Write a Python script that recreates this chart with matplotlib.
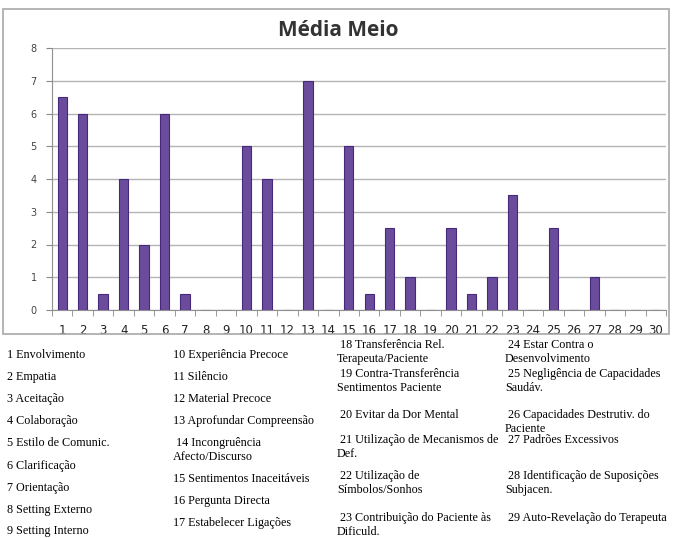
import matplotlib
matplotlib.use("Agg")
import matplotlib.pyplot as plt
from matplotlib.patches import Rectangle

categories = [str(i) for i in range(1, 31)]
values = [6.5, 6, 0.5, 4, 2, 6, 0.5, 0, 0, 5,
          4, 0, 7, 0, 5, 0.5, 2.5, 1, 0, 2.5,
          0.5, 1, 3.5, 0, 2.5, 0, 1, 0, 0, 0]
yticks = list(range(0, 9))
title = "Média Meio"

col1 = ["1 Envolvimento", "2 Empatia", "3 Aceitação", "4 Colaboração",
        "5 Estilo de Comunic.", "6 Clarificação", "7 Orientação",
        "8 Setting Externo", "9 Setting Interno"]
col2 = ["10 Experiência Precoce", "11 Silêncio", "12 Material Precoce",
        "13 Aprofundar Compreensão", " 14 Incongruência\nAfecto/Discurso",
        "15 Sentimentos Inaceitáveis", "16 Pergunta Directa",
        "17 Estabelecer Ligações"]
col3 = [" 18 Transferência Rel.\nTerapeuta/Paciente",
        " 19 Contra-Transferência\nSentimentos Paciente",
        " 20 Evitar da Dor Mental",
        " 21 Utilização de Mecanismos de\nDef.",
        " 22 Utilização de\nSímbolos/Sonhos",
        " 23 Contribuição do Paciente às\nDificuld."]
col4 = [" 24 Estar Contra o\nDesenvolvimento",
        " 25 Negligência de Capacidades\nSaudáv.",
        " 26 Capacidades Destrutiv. do\nPaciente",
        " 27 Padrões Excessivos",
        " 28 Identificação de Suposições\nSubjacen.",
        " 29 Auto-Revelação do Terapeuta"]

W, H = 676, 538
fig = plt.figure(figsize=(W / 100, H / 100), dpi=100)
fig.patch.set_facecolor("white")

# chart frame
fig.patches.append(Rectangle((3 / W, 1 - 334 / H), 666 / W, 325 / H,
                             transform=fig.transFigure, fill=False,
                             edgecolor="#a8a8a8", lw=1.2))

ax = fig.add_axes([52 / W, 1 - 310 / H, 614 / W, 262 / H])
x = list(range(1, 31))
ax.bar(x, values, width=0.46, color="#6a4b9c", edgecolor="#46297a", lw=0.8, zorder=3)
ax.set_xlim(0.5, 30.5)
ax.set_ylim(0, 8)
ax.set_yticks(yticks)
ax.set_yticklabels([str(t) for t in yticks], fontsize=7, color="#444444",
                   family="DejaVu Sans")
ax.set_xticks(x)
ax.set_xticklabels(categories, fontsize=8.5, color="#222222", family="DejaVu Sans")
ax.set_xticks([i + 0.5 for i in range(0, 31)], minor=True)
ax.tick_params(axis="x", which="major", length=0, pad=10)
ax.tick_params(axis="x", which="minor", length=4, color="#888888", direction="out")
ax.tick_params(axis="y", length=4, color="#888888", pad=7)
ax.yaxis.grid(True, color="#b4b4b4", lw=1, zorder=0)
for s in ["top", "right"]:
    ax.spines[s].set_visible(False)
for s in ["left", "bottom"]:
    ax.spines[s].set_color("#909090")

fig.text(338 / W, 1 - 30 / H, title, ha="center", va="center", fontsize=15,
         fontweight="bold", color="#333333", family="Open Sans")

serif = dict(family="Liberation Serif", fontsize=8.7, color="black",
             va="top", linespacing=1.25)

def place(labels, xpix, ycenters):
    for lab, yc in zip(labels, ycenters):
        fig.text(xpix / W, 1 - (yc - 5) / H, lab, ha="left", **serif)

place(col1, 7, [354, 376, 398, 420, 442, 465, 487, 509, 530])
place(col2, 173, [354, 376, 398, 420, 442, 478, 500, 522])
place(col3, 337, [344, 373, 414, 439, 475, 517])
place(col4, 505, [344, 373, 414, 439, 475, 517])

fig.savefig("out.png", dpi=100)
